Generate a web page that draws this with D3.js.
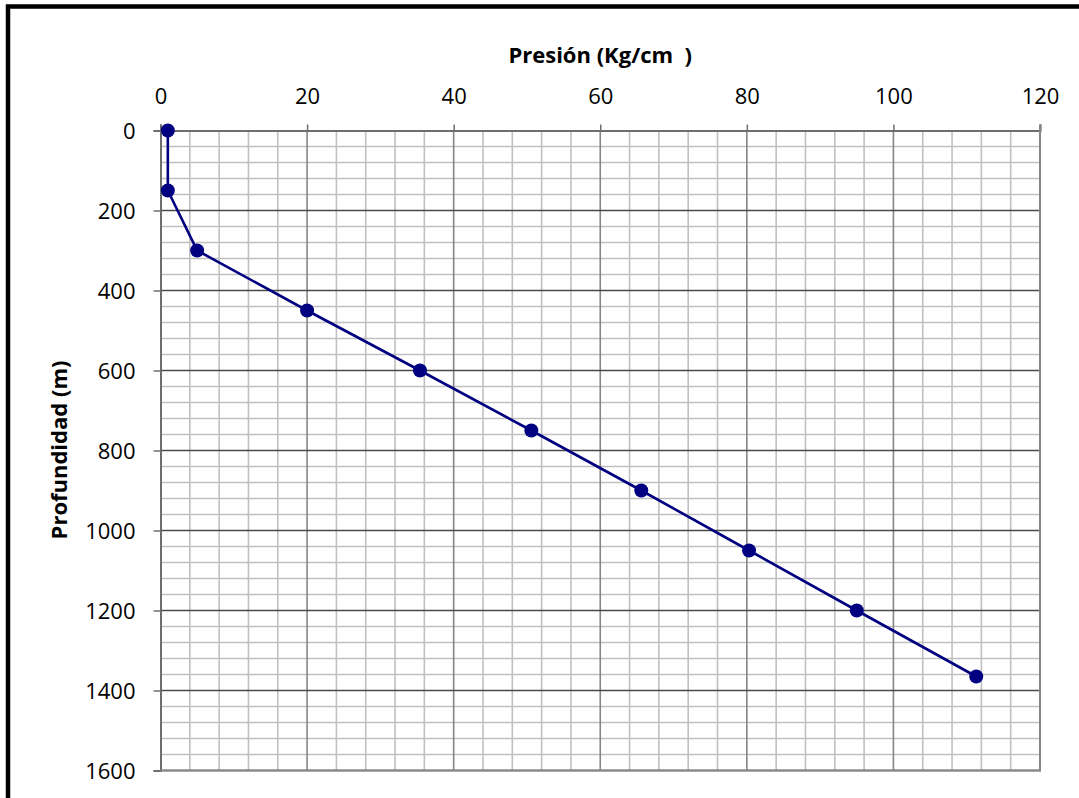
<!DOCTYPE html>
<html><head><meta charset="utf-8">
<script src="https://cdn.jsdelivr.net/npm/d3@7/dist/d3.min.js"></script>
<style>
html,body{margin:0;padding:0;background:#fff;overflow:hidden}
text{font-family:"Open Sans","Liberation Sans",sans-serif}
</style></head>
<body>
<svg id="chart" width="1079" height="798"></svg>
<script>
const pressure = [1, 1, 5, 20, 35.4, 50.6, 65.6, 80.3, 95, 111.3];
const depth = [0, 150, 300, 450, 600, 750, 900, 1050, 1200, 1365];
const xTicks = [0, 20, 40, 60, 80, 100, 120];
const yTicks = [0, 200, 400, 600, 800, 1000, 1200, 1400, 1600];
const xTitle = "Presión (Kg/cm  )";
const yTitle = "Profundidad (m)";

(function () {
const svg = d3.select("#chart");
const W = 1079, H = 798;
const pL = 160.5, pR = 1040, pT = 130.5, pB = 770.5;

svg.append("rect").attr("width", W).attr("height", H).attr("fill", "#fff");
svg.append("rect").attr("x", 8).attr("y", 6.5).attr("width", W + 20).attr("height", H + 20)
  .attr("fill", "none").attr("stroke", "#000").attr("stroke-width", 4.5);

const x = d3.scaleLinear().domain([0, 120]).range([pL, pR]);
const y = d3.scaleLinear().domain([0, 1600]).range([pT, pB]);

const g = svg.append("g");
const xMinor = d3.range(0, 121, 4).filter(v => v % 20 !== 0);
const yMinor = d3.range(0, 1601, 40).filter(v => v % 200 !== 0);
g.selectAll(".vmin").data(xMinor).join("line")
  .attr("x1", d => x(d)).attr("x2", d => x(d)).attr("y1", pT).attr("y2", pB)
  .attr("stroke", "#c0c0c0").attr("stroke-width", 1.6);
g.selectAll(".hmin").data(yMinor).join("line")
  .attr("y1", d => y(d)).attr("y2", d => y(d)).attr("x1", pL).attr("x2", pR)
  .attr("stroke", "#c0c0c0").attr("stroke-width", 1.6);
g.selectAll(".vmaj").data(xTicks.slice(1)).join("line")
  .attr("x1", d => x(d)).attr("x2", d => x(d)).attr("y1", pT).attr("y2", pB)
  .attr("stroke", "#868686").attr("stroke-width", 1.6);
g.selectAll(".hmaj").data(yTicks.slice(1)).join("line")
  .attr("y1", d => y(d)).attr("y2", d => y(d)).attr("x1", pL).attr("x2", pR)
  .attr("stroke", "#4a4a4a").attr("stroke-width", 1.4);

const xAxis = d3.axisTop(x).tickValues(xTicks).tickSize(6).tickPadding(21).tickFormat(d3.format("d"));
const yAxis = d3.axisLeft(y).tickValues(yTicks).tickSize(7).tickPadding(18).tickFormat(d3.format("d"));
const gx = svg.append("g").attr("transform", `translate(0,${pT})`).call(xAxis);
const gy = svg.append("g").attr("transform", `translate(${pL},0)`).call(yAxis);
[gx, gy].forEach(a => {
  a.select(".domain").attr("stroke", "#6e6e6e").attr("stroke-width", 2);
  a.selectAll(".tick line").attr("stroke", "#6e6e6e").attr("stroke-width", 1.5);
  a.selectAll("text").attr("font-size", 22).attr("fill", "#000")
    .style("font-family", '"Open Sans","Liberation Sans",sans-serif');
});
gy.selectAll("text").attr("dy", "0.35em");
svg.append("line").attr("x1", pR).attr("x2", pR).attr("y1", pT - 6).attr("y2", pB + 1)
  .attr("stroke", "#868686").attr("stroke-width", 2);
svg.append("line").attr("x1", pL).attr("x2", pR + 1).attr("y1", pB).attr("y2", pB)
  .attr("stroke", "#868686").attr("stroke-width", 2);

const pts = pressure.map((p, i) => ({p, d: depth[i]}));
svg.append("path").datum(pts)
  .attr("d", d3.line().x(d => x(d.p)).y(d => y(d.d)))
  .attr("fill", "none").attr("stroke", "#000080").attr("stroke-width", 2.6);
svg.selectAll(".pt").data(pts).join("circle")
  .attr("cx", d => x(d.p)).attr("cy", d => y(d.d)).attr("r", 7).attr("fill", "#000080");

svg.append("text").attr("x", (pL + pR) / 2).attr("y", 63).attr("text-anchor", "middle")
  .attr("font-size", 22).attr("font-weight", "bold").style("white-space", "pre")
  .text(xTitle);
svg.append("text").attr("transform", `translate(67,450) rotate(-90)`).attr("text-anchor", "middle")
  .attr("font-size", 22).attr("font-weight", "bold").text(yTitle);
})();
</script>
</body></html>
